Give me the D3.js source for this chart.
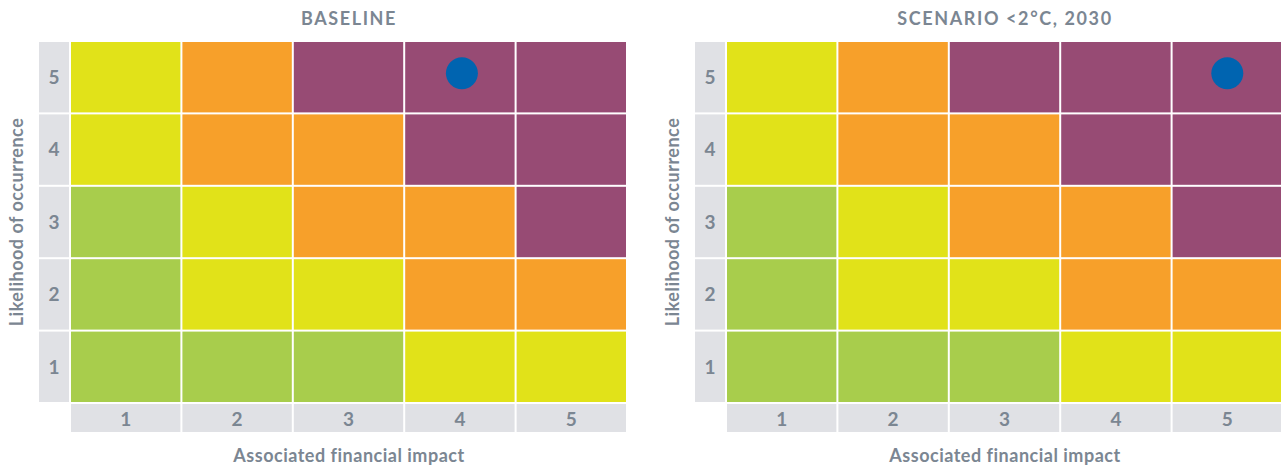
<!DOCTYPE html>
<html>
<head>
<meta charset="utf-8">
<script src="https://cdn.jsdelivr.net/npm/d3@7"></script>
<style>
  body { margin: 0; background: #fff; }
  text { font-family: "Lato", "Noto Sans", sans-serif; font-weight: 700; fill: #7b8692; }
</style>
</head>
<body>
<div id="chart"></div>
<script>
// impact (x) and likelihood (y) levels
var impacts = [1, 2, 3, 4, 5],
    likelihoods = [1, 2, 3, 4, 5];

// risk level per cell, rows from likelihood 1 up to 5, columns impact 1..5
var riskRows = [
    ["low", "low", "low", "medium", "medium"],
    ["low", "medium", "medium", "high", "high"],
    ["low", "medium", "high", "high", "severe"],
    ["medium", "high", "high", "severe", "severe"],
    ["medium", "high", "severe", "severe", "severe"]
];

var riskColors = {low: "#a8cd4c", medium: "#e1e219", high: "#f7a02a", severe: "#974b74"};

var panelTitles = ["BASELINE", "SCENARIO <2°C, 2030"];
// position of the risk marker: [impact, likelihood]
var markers = [[4, 5], [5, 5]];

var svgWidth = 1281, svgHeight = 470;
var panelOffset = 656;

var svg = d3.select("#chart").append("svg")
    .attr("width", svgWidth)
    .attr("height", svgHeight);

var x = d3.scaleBand().domain(impacts).range([70, 627]);
var y = d3.scaleBand().domain(likelihoods).range([403, 41]);

var cells = [];
riskRows.forEach(function(row, i) {
    row.forEach(function(r, j) {
        cells.push({impact: impacts[j], likelihood: likelihoods[i], risk: r});
    });
});

panelTitles.forEach(function(title, p) {
    var g = svg.append("g")
        .attr("transform", "translate(" + (p * panelOffset) + ",0)");

    g.append("text")
        .attr("x", 349)
        .attr("y", 25)
        .attr("text-anchor", "middle")
        .style("font-size", "18px")
        .style("letter-spacing", "1.6px")
        .text(title);

    // heat map cells
    g.selectAll(".cell")
        .data(cells)
      .enter().append("rect")
        .attr("class", "cell")
        .attr("x", function(d) { return x(d.impact) + 1; })
        .attr("y", function(d) { return y(d.likelihood) + 1; })
        .attr("width", x.bandwidth() - 2)
        .attr("height", y.bandwidth() - 2)
        .style("fill", function(d) { return riskColors[d.risk]; });

    // y tick boxes
    g.selectAll(".ytick")
        .data(likelihoods)
      .enter().append("rect")
        .attr("x", 39)
        .attr("y", function(d) { return y(d) + 1; })
        .attr("width", 30)
        .attr("height", y.bandwidth() - 2)
        .style("fill", "#e0e1e5");

    g.selectAll(".ylab")
        .data(likelihoods)
      .enter().append("text")
        .attr("x", 54)
        .attr("y", function(d) { return y(d) + y.bandwidth() / 2; })
        .attr("dy", "0.36em")
        .attr("text-anchor", "middle")
        .style("font-size", "19px")
        .text(function(d) { return d; });

    // x tick boxes
    g.selectAll(".xtick")
        .data(impacts)
      .enter().append("rect")
        .attr("x", function(d) { return x(d) + 1; })
        .attr("y", 404)
        .attr("width", x.bandwidth() - 2)
        .attr("height", 28)
        .style("fill", "#e0e1e5");

    g.selectAll(".xlab")
        .data(impacts)
      .enter().append("text")
        .attr("x", function(d) { return x(d) + x.bandwidth() / 2; })
        .attr("y", 419)
        .attr("dy", "0.36em")
        .attr("text-anchor", "middle")
        .style("font-size", "19px")
        .text(function(d) { return d; });

    // axis titles
    g.append("text")
        .attr("x", 349)
        .attr("y", 462)
        .attr("text-anchor", "middle")
        .style("font-size", "18px")
        .style("letter-spacing", "0.5px")
        .text("Associated financial impact");

    g.append("text")
        .attr("transform", "translate(23," + ((41 + 403) / 2) + ") rotate(-90)")
        .attr("text-anchor", "middle")
        .style("font-size", "18px")
        .style("letter-spacing", "0.5px")
        .text("Likelihood of occurrence");

    // marker, drawn a little above the cell centre as in the original
    g.append("circle")
        .attr("cx", x(markers[p][0]) + x.bandwidth() / 2 + (p === 0 ? 2 : 0))
        .attr("cy", y(markers[p][1]) + y.bandwidth() / 2 - 4)
        .attr("r", 16)
        .style("fill", "#0064b0");
});
</script>
</body>
</html>
